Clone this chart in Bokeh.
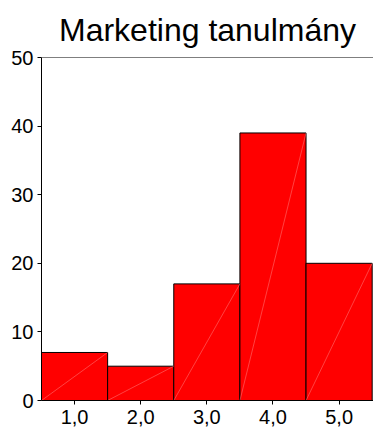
from bokeh.plotting import figure
from bokeh.models import FixedTicker, Range1d, Span
from bokeh.embed import file_html
from bokeh.resources import INLINE

categories = [1, 2, 3, 4, 5]
tick_labels = ["1,0", "2,0", "3,0", "4,0", "5,0"]
counts = [7, 5, 17, 39, 20]
y_ticks = [0, 10, 20, 30, 40, 50]

p = figure(width=373, height=432, output_backend="svg", toolbar_location=None,
           x_range=Range1d(0.5, 5.52), y_range=Range1d(0, 50),
           title="Marketing tanulmány",
           min_border_left=41, min_border_right=0, min_border_top=14, min_border_bottom=32)

p.vbar(x=categories, top=counts, width=1.0, fill_color="#ff0000", line_color="black", line_width=1)
left = [c - 0.5 for c in categories]
right = [c + 0.5 for c in categories]
zeros = [0] * len(categories)
p.segment(x0=left, y0=zeros, x1=right, y1=counts, line_color="#ff8c8c", line_width=0.6, line_alpha=0.8)

p.add_layout(Span(location=50, dimension="width", line_color="black", line_width=1))

p.title.text_font = "Liberation Sans"
p.title.text_font_size = "32px"
p.title.text_font_style = "normal"
p.title.align = "center"
p.title.text_color = "black"
p.title.standoff = 19

p.xaxis.ticker = FixedTicker(ticks=categories)
p.xaxis.major_label_overrides = {c: t for c, t in zip(categories, tick_labels)}
p.yaxis.ticker = FixedTicker(ticks=y_ticks)
for ax in (p.xaxis, p.yaxis):
    ax.major_label_text_font = "Liberation Sans"
    ax.major_label_text_font_size = "20px"
    ax.major_label_text_color = "black"
    ax.axis_line_color = "black"
    ax.major_tick_line_color = "black"
    ax.major_tick_out = 4
    ax.major_tick_in = 0
    ax.minor_tick_line_color = None
p.xaxis.major_label_standoff = 5
p.yaxis.major_label_standoff = 4

p.xgrid.grid_line_color = None
p.ygrid.grid_line_color = None
p.outline_line_color = None
p.background_fill_color = "white"
p.border_fill_color = "white"

open("out.html", "w").write(file_html(p, INLINE))
